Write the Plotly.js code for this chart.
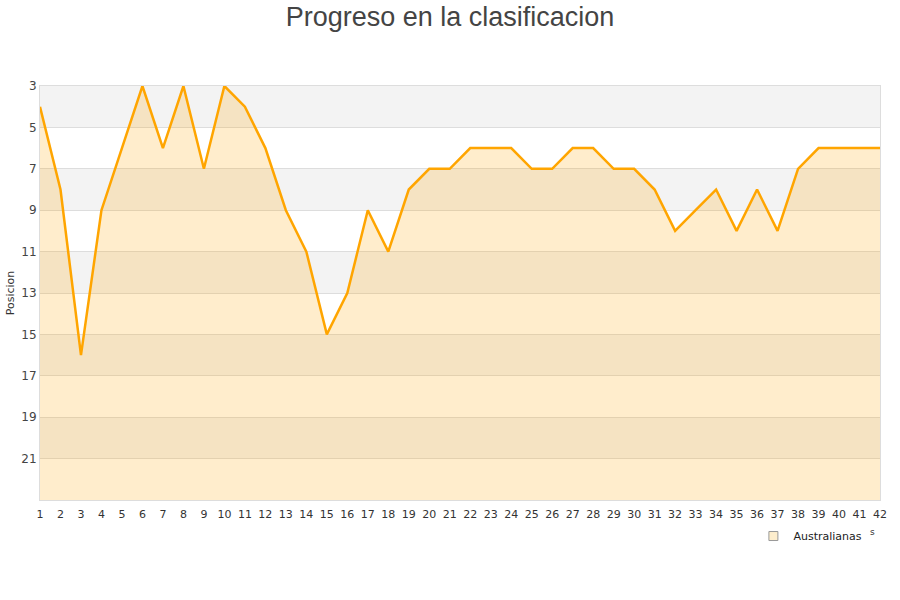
<!DOCTYPE html>
<html>
<head>
<meta charset="utf-8">
<script src="https://cdn.plot.ly/plotly-3.0.1.min.js"></script>
<style>html,body{margin:0;padding:0;background:#fff}#chart{width:900px;height:600px}</style>
</head>
<body>
<div id="chart"></div>
<script>
const jornadas = [1,2,3,4,5,6,7,8,9,10,11,12,13,14,15,16,17,18,19,20,21,22,23,24,25,26,27,28,29,30,31,32,33,34,35,36,37,38,39,40,41,42];
const posiciones = [4,8,16,9,6,3,6,3,7,3,4,6,9,11,15,13,9,11,8,7,7,6,6,6,7,7,6,6,7,7,8,10,9,8,10,8,10,7,6,6,6,6];
const yTicks = [3,5,7,9,11,13,15,17,19,21];
const yMin = 3, yMax = 23;
const seriesName = 'Australianas';

const baseline = jornadas.map(() => yMax);

const shapes = [];
for (let i = 0; i < yTicks.length; i++) {
  if (i % 2 === 0) {
    shapes.push({type:'rect', xref:'paper', yref:'y', x0:0, x1:1, y0:yTicks[i], y1:Math.min(yTicks[i]+2, yMax),
      fillcolor:'#f3f3f3', line:{width:0}, layer:'below'});
  }
}

const traces = [
  {x: jornadas, y: baseline, mode:'lines', line:{width:0, color:'rgba(0,0,0,0)'}, hoverinfo:'skip', showlegend:false},
  {x: jornadas, y: posiciones, mode:'lines', fill:'tonexty', fillcolor:'rgba(255,165,0,0.2)',
   line:{color:'#ffa500', width:2.5}, showlegend:false, name: seriesName},
  {x:[null], y:[null], mode:'markers', name: seriesName,
   marker:{symbol:'square', size:9, color:'#feeecd', line:{color:'#999', width:1}}}
];

const layout = {
  width:900, height:600,
  paper_bgcolor:'#fff', plot_bgcolor:'#fff',
  margin:{l:40, r:20, t:86, b:100},
  font:{family:'DejaVu Sans, sans-serif', size:11, color:'#444'},
  title:{text:'Progreso en la clasificacion', x:0.5, xanchor:'center', yref:'container', y:0.988, yanchor:'top',
    font:{family:'Liberation Sans, Arial, sans-serif', size:27, color:'#444'}},
  xaxis:{range:[1,42], tickmode:'array', tickvals:jornadas, ticktext:jornadas.map(String),
    showgrid:false, zeroline:false, showline:true, linecolor:'#ddd', mirror:true, ticks:'',
    ticklabelstandoff:4,
    tickfont:{size:11, color:'#333'}},
  yaxis:{range:[yMax, yMin], tickmode:'array', tickvals:yTicks, ticktext:yTicks.map(String),
    showgrid:true, gridcolor:'#ddd', zeroline:false, showline:true, linecolor:'#ddd', mirror:true, ticks:'',
    tickfont:{size:12, color:'#444'},
    title:{text:'Posicion', font:{size:11, color:'#333'}, standoff:4}},
  shapes: shapes,
  showlegend:true,
  legend:{x:0.985, xanchor:'right', y:-0.052, yanchor:'top', orientation:'h',
    font:{size:11, color:'#222'}, bgcolor:'rgba(0,0,0,0)'},
  annotations:[{text:'s', xref:'paper', yref:'paper', x:0.996, y:-0.095, showarrow:false, font:{size:9, color:'#333'}}]
};

Plotly.newPlot('chart', traces, layout, {displayModeBar:false, staticPlot:true});
</script>
</body>
</html>
